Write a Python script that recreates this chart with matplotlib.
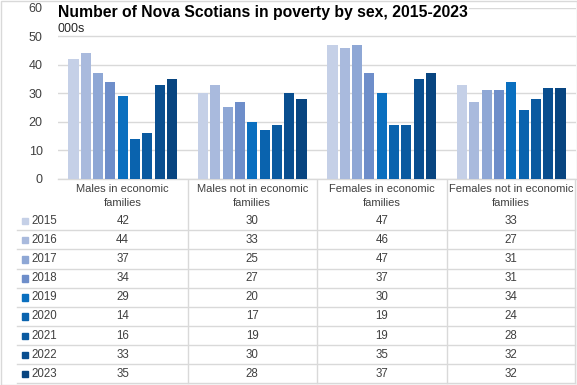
import matplotlib
matplotlib.use("Agg")
import matplotlib.pyplot as plt
from matplotlib.patches import Rectangle

categories = ["Males in economic\nfamilies", "Males not in economic\nfamilies",
              "Females in economic\nfamilies", "Females not in economic\nfamilies"]
years = ["2015", "2016", "2017", "2018", "2019", "2020", "2021", "2022", "2023"]
v2015 = [42, 30, 47, 33]
v2016 = [44, 33, 46, 27]
v2017 = [37, 25, 47, 31]
v2018 = [34, 27, 37, 31]
v2019 = [29, 20, 30, 34]
v2020 = [14, 17, 19, 24]
v2021 = [16, 19, 19, 28]
v2022 = [33, 30, 35, 32]
v2023 = [35, 28, 37, 32]
series = [v2015, v2016, v2017, v2018, v2019, v2020, v2021, v2022, v2023]
colors = ["#C5D0E7", "#A9BADD", "#8EA7D5", "#6E8ECA", "#0A6FBF",
          "#0A63AE", "#0A5AA0", "#094E8F", "#084580"]

W, H = 577, 385
FONT = "Liberation Sans"
TXT = "#404040"
GRID = "#D9D9D9"

fig = plt.figure(figsize=(W / 100, H / 100), dpi=100)


def fx(x):
    return x / W


def fy(y):
    return 1 - y / H


# bar area in pixel positions
left, right, top, bottom = 58, 576, 8, 178.5
ax = fig.add_axes([fx(left), fy(bottom), fx(right - left), (bottom - top) / H])
n = len(series)
step = 0.095
width = 0.078
for i, (vals, c) in enumerate(zip(series, colors)):
    xs = [k + (i - (n - 1) / 2) * step for k in range(len(categories))]
    ax.bar(xs, vals, width=width, color=c, zorder=3)
ax.set_xlim(-0.5, len(categories) - 0.5)
ax.set_ylim(0, 60)
ax.set_yticks(range(0, 61, 10))
ax.tick_params(axis="y", length=0, pad=11, labelsize=9, labelcolor=TXT)
ax.set_xticks([])
for lbl in ax.get_yticklabels():
    lbl.set_fontfamily(FONT)
ax.grid(axis="y", color=GRID, linewidth=1, zorder=0)
for s in ["top", "right", "left"]:
    ax.spines[s].set_visible(False)
ax.spines["bottom"].set_color(GRID)
ax.spines["bottom"].set_linewidth(1)

# title
fig.text(fx(58), fy(12), "Number of Nova Scotians in poverty by sex, 2015-2023",
         fontsize=11.3, fontweight="bold", family=FONT, va="center", ha="left",
         bbox=dict(facecolor="white", edgecolor="none", pad=1))
fig.text(fx(58), fy(28.5), "000s", fontsize=9, family=FONT, va="center", ha="left",
         color="#262626")

# data table in pixel coordinates
tab = fig.add_axes([0, 0, 1, 1], zorder=-1)
tab.set_xlim(0, W)
tab.set_ylim(H, 0)
tab.axis("off")
colw = (right - left) / len(categories)
row0, rowh = 220.7, 19.15
table_bottom = 383
for k in range(1, len(categories)):
    xb = left + k * colw
    tab.plot([xb, xb], [bottom, table_bottom], color=GRID, lw=1)
for r in range(len(years)):
    yb = row0 + (r + 0.5) * rowh
    tab.plot([17, right - 1], [yb, yb], color=GRID, lw=1)
tab.plot([right - 1, right - 1], [bottom, table_bottom], color=GRID, lw=1)
for k, cat in enumerate(categories):
    tab.text(left + (k + 0.5) * colw, 196, cat, ha="center", va="center",
             fontsize=8, family=FONT, color=TXT, linespacing=1.4)
for r, (yr, vals, c) in enumerate(zip(years, series, colors)):
    yc = row0 + r * rowh
    tab.add_patch(Rectangle((21.5, yc - 3), 6.5, 6.5, color=c))
    tab.text(31, yc, yr, ha="left", va="center", fontsize=8.3, family=FONT, color=TXT)
    for k, v in enumerate(vals):
        tab.text(left + (k + 0.5) * colw, yc, str(v), ha="center", va="center",
                 fontsize=8.3, family=FONT, color=TXT)

# chart border
tab.add_patch(Rectangle((0.5, 0.5), W - 1, H - 1, fill=False, edgecolor=GRID, lw=1))

fig.savefig("out.png", dpi=100)
